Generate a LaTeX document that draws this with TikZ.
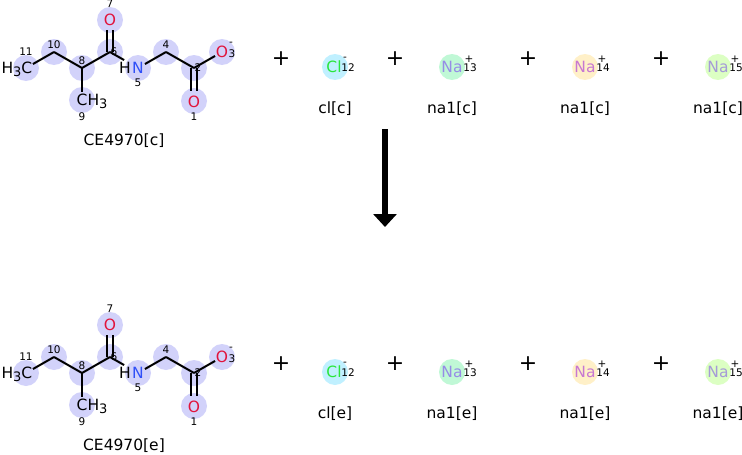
\documentclass[tikz,border=0pt]{standalone}
\usepackage{fontspec}
\setmainfont{DejaVu Sans}
\usetikzlibrary{arrows.meta}
\definecolor{hlc}{RGB}{210,210,250}
\definecolor{ored}{RGB}{225,20,60}
\definecolor{nblue}{RGB}{48,80,248}
\definecolor{clcirc}{RGB}{192,240,255}
\definecolor{cltext}{RGB}{40,230,60}
\definecolor{naAcirc}{RGB}{192,248,214}
\definecolor{naAtext}{RGB}{150,140,230}
\definecolor{naBcirc}{RGB}{255,240,200}
\definecolor{naBtext}{RGB}{200,120,210}
\definecolor{naCcirc}{RGB}{220,255,195}
\definecolor{naCtext}{RGB}{165,155,215}
\tikzset{
  bond/.style={line width=2pt, black},
  hl/.style={circle, fill=#1, minimum size=26pt, inner sep=0pt},
  atom/.style={inner sep=0pt, font=\fontsize{15.5}{15.5}\selectfont},
  num/.style={inner sep=0pt, font=\fontsize{10.5}{10.5}\selectfont},
  lab/.style={inner sep=0pt, font=\fontsize{15.5}{15.5}\selectfont},
  plussign/.style={inner sep=0pt, font=\fontsize{22}{22}\selectfont},
}
\newcommand\subthree{\raisebox{-3pt}{\fontsize{13}{13}\selectfont 3}}
% #1 prefix, #2 y offset, #3 state
\newcommand\molecule[3]{%
\begin{scope}[shift={(0,#2)}]
  \coordinate (#1p11) at (26,68);
  \coordinate (#1p10) at (54,52);
  \coordinate (#1p8) at (82,68);
  \coordinate (#1p9) at (82,100);
  \coordinate (#1p6) at (110,52);
  \coordinate (#1p7) at (110,20);
  \coordinate (#1p5) at (138,68);
  \coordinate (#1p4) at (166,52);
  \coordinate (#1p2) at (194,68);
  \coordinate (#1p3) at (222,52);
  \coordinate (#1p1) at (194,101);
  \foreach \a in {11,10,8,9,6,7,5,4,2,3,1} {
    \node[hl=hlc] (#1h\a) at (#1p\a) {};
  }
  \draw[bond, shorten <=8pt] (#1p11) -- (#1p10);
  \draw[bond] (#1p10) -- (#1p8);
  \draw[bond] (#1p8) -- (#1p6);
  \draw[bond, shorten >=8pt] (#1p8) -- (#1p9);
  \draw[bond, shorten >=10pt] ([xshift=-3pt]#1p6) -- ([xshift=-3pt]#1p7);
  \draw[bond, shorten >=10pt] ([xshift=3pt]#1p6) -- ([xshift=3pt]#1p7);
  \draw[bond, shorten >=16pt] (#1p6) -- (#1p5);
  \draw[bond, shorten <=8pt] (#1p5) -- (#1p4);
  \draw[bond] (#1p4) -- (#1p2);
  \draw[bond, shorten >=8pt] (#1p2) -- (#1p3);
  \draw[bond, shorten >=10pt] ([xshift=-3pt]#1p2) -- ([xshift=-3pt]#1p1);
  \draw[bond, shorten >=10pt] ([xshift=3pt]#1p2) -- ([xshift=3pt]#1p1);
  \node[atom, anchor=base east] (#1t11) at (32.5,73.5) {H\subthree C};
  \node[atom, anchor=base west] (#1t9) at (76.5,105.5) {CH\subthree};
  \node[atom, text=ored] (#1t7) at (#1p7) {O};
  \node[atom, text=nblue] (#1t5) at (#1p5) {N};
  \node[atom] (#1tH) at (125,68) {H};
  \node[atom, text=ored] (#1t3) at (#1p3) {O};
  \node[atom, text=ored] (#1t1) at ([yshift=-1pt]#1p1) {O};
  \node[num] (#1n11) at (26,52) {11};
  \node[num] (#1n10) at (54,45) {10};
  \node[num] (#1n8) at (82,61) {8};
  \node[num] (#1n9) at (82,117) {9};
  \node[num] (#1n6) at (114,52) {6};
  \node[num] (#1n7) at (110,4) {7};
  \node[num] (#1n5) at (138,83) {5};
  \node[num] (#1n4) at (166,45) {4};
  \node[num] (#1n2) at (198,68) {2};
  \node[num] (#1n3) at (232,54) {3};
  \node[num] (#1q3) at (231,44) {-};
  \node[num] (#1n1) at (194,117) {1};
  \node[lab] (#1lab) at (124,141) {CE4970[#3]};
\end{scope}}
% #1 prefix, #2 x, #3 y, #4 circle colour, #5 text colour, #6 symbol, #7 charge, #8 number, #9 label
\newcommand\ion[9]{%
  \node[hl=#4] (#1h) at (#2,#3) {};
  \node[atom, text=#5] (#1t) at (#2,#3) {#6};
  \node[num] (#1c) at (#2+17,#3-8) {#7};
  \node[num] (#1n) at (#2+18,#3+1) {#8};
  \node[lab] (#1l) at (#2,#3+42) {#9};
}
\begin{document}
\begin{tikzpicture}[x=1pt,y=-1pt]
  \useasboundingbox (0,0) rectangle (742,455);
  \molecule{A}{0}{c}
  \molecule{B}{305}{e}
  \foreach \r/\yy/\s in {A/67/c, B/372/e} {
    \node[hl=clcirc] (\r clh) at (335,\yy) {};
    \node[atom, text=cltext] (\r clt) at (334,\yy) {Cl};
    \node[num] (\r clc) at (345,\yy-8) {-};
    \node[num] (\r cln) at (348,\yy+1) {12};
    \node[lab] (\r cll) at (335,\yy+42) {cl[\s]};
    \ion{\r naA}{452}{\yy}{naAcirc}{naAtext}{Na}{+}{13}{na1[\s]}
    \ion{\r naB}{585}{\yy}{naBcirc}{naBtext}{Na}{+}{14}{na1[\s]}
    \ion{\r naC}{718}{\yy}{naCcirc}{naCtext}{Na}{+}{15}{na1[\s]}
    \node[plussign] (\r pl1) at (281,\yy-8) {+};
    \node[plussign] (\r pl2) at (395,\yy-8) {+};
    \node[plussign] (\r pl3) at (528,\yy-8) {+};
    \node[plussign] (\r pl4) at (661,\yy-8) {+};
  }
  \coordinate (arrS) at (385,129);
  \coordinate (arrE) at (385,227);
  \draw[line width=6pt, -{Triangle[width=23pt,length=13pt]}] (arrS) -- (arrE);
\end{tikzpicture}
\end{document}
